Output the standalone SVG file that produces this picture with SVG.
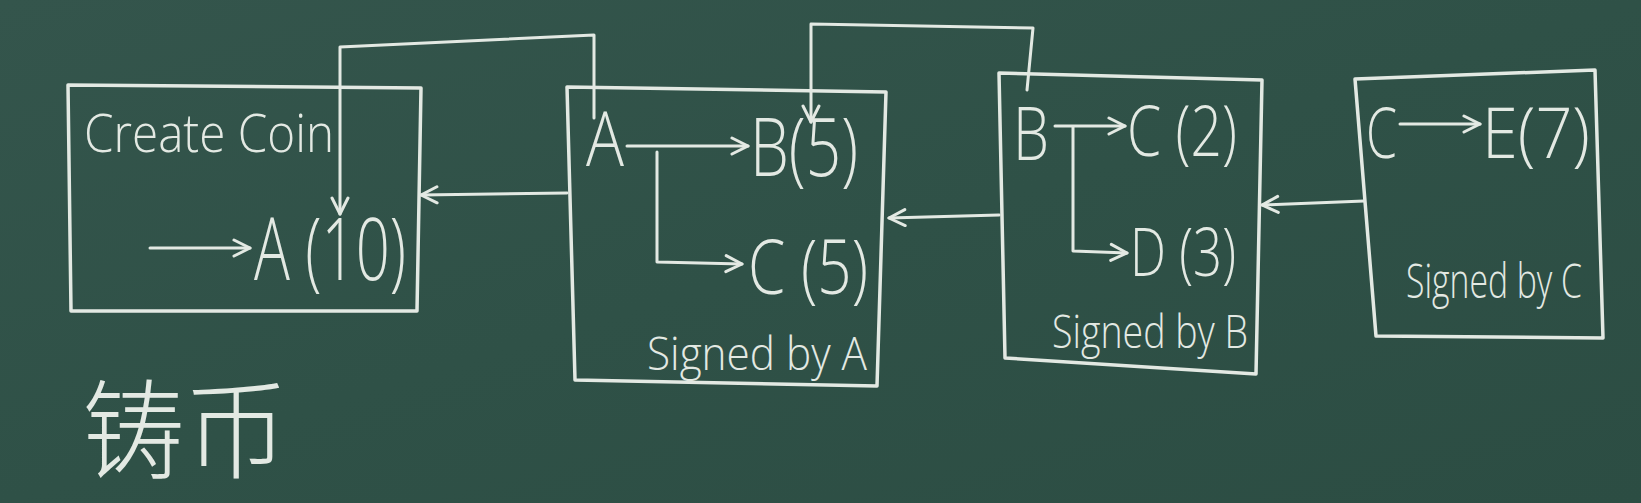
<svg xmlns="http://www.w3.org/2000/svg" width="1641" height="503" viewBox="0 0 1641 503">
<defs>
<linearGradient id="bg" x1="0" y1="0" x2="1" y2="1">
<stop offset="0" stop-color="#34554c"/>
<stop offset="0.5" stop-color="#2f5147"/>
<stop offset="1" stop-color="#2c4d43"/>
</linearGradient>
<marker id="ah" viewBox="0 0 20 20" refX="18" refY="10" markerWidth="20" markerHeight="20" markerUnits="userSpaceOnUse" orient="auto">
<polyline points="2,2 18,10 2,18" fill="none" stroke="#e3e9e3" stroke-width="3" stroke-linecap="round" stroke-linejoin="round"/>
</marker>
<style>
.box{fill:none;stroke:#e3e9e3;stroke-width:3.5;stroke-linejoin:round;stroke-linecap:round}
.ln{fill:none;stroke:#e3e9e3;stroke-width:3;stroke-linejoin:round;stroke-linecap:round}
.t{fill:#e3e9e3;font-family:"Open Sans","Liberation Sans",sans-serif;font-weight:300}
.cjk{fill:#e3e9e3;font-family:"Noto Sans CJK SC",sans-serif;font-weight:300}
</style>
</defs>
<rect width="1641" height="503" fill="url(#bg)"/>

<g id="createcoin">
<path class="box" d="M68,85 L421,88 L417,311 L71,311 Z"/>
<text class="t" x="84" y="152" font-size="54" textLength="250" lengthAdjust="spacingAndGlyphs">Create Coin</text>
<line class="ln" x1="150" y1="248" x2="250" y2="248" marker-end="url(#ah)"/>
<text class="t" x="254" y="280" font-size="86" textLength="152" lengthAdjust="spacingAndGlyphs">A (10)</text>
</g>

<g id="txA">
<path class="box" d="M567,87 L886,92 L877,386 L575,380 Z"/>
<text class="t" x="586" y="166" font-size="76" textLength="38" lengthAdjust="spacingAndGlyphs">A</text>
<line class="ln" x1="627" y1="146" x2="748" y2="146" marker-end="url(#ah)"/>
<text class="t" x="750" y="176" font-size="82" textLength="108" lengthAdjust="spacingAndGlyphs">B(5)</text>
<path class="ln" d="M657,152 L657,262 L742,264" marker-end="url(#ah)"/>
<text class="t" x="748" y="294" font-size="76" textLength="120" lengthAdjust="spacingAndGlyphs">C (5)</text>
<text class="t" x="647" y="370" font-size="46" textLength="220" lengthAdjust="spacingAndGlyphs">Signed by A</text>
</g>

<g id="txB">
<path class="box" d="M999,73 L1262,80 L1256,374 L1005,358 Z"/>
<text class="t" x="1013" y="160" font-size="74" textLength="36" lengthAdjust="spacingAndGlyphs">B</text>
<line class="ln" x1="1055" y1="126" x2="1125" y2="126" marker-end="url(#ah)"/>
<text class="t" x="1127" y="156" font-size="70" textLength="110" lengthAdjust="spacingAndGlyphs">C (2)</text>
<path class="ln" d="M1073,127 L1073,251 L1127,253" marker-end="url(#ah)"/>
<text class="t" x="1130" y="276" font-size="66" textLength="106" lengthAdjust="spacingAndGlyphs">D (3)</text>
<text class="t" x="1052" y="348" font-size="46" textLength="196" lengthAdjust="spacingAndGlyphs">Signed by B</text>
</g>

<g id="txC">
<path class="box" d="M1355,79 L1595,70 L1603,338 L1376,336 Z"/>
<text class="t" x="1366" y="158" font-size="70" textLength="31" lengthAdjust="spacingAndGlyphs">C</text>
<line class="ln" x1="1400" y1="124" x2="1480" y2="124" marker-end="url(#ah)"/>
<text class="t" x="1482" y="158" font-size="70" textLength="108" lengthAdjust="spacingAndGlyphs">E(7)</text>
<text class="t" x="1406" y="298" font-size="48" textLength="176" lengthAdjust="spacingAndGlyphs">Signed by C</text>
</g>

<g id="label-zhubi">
<text class="cjk" x="82" y="470" font-size="108" textLength="206" lengthAdjust="spacingAndGlyphs">铸币</text>
</g>

<g id="connectors">
<line class="ln" x1="567" y1="193" x2="421" y2="195" marker-end="url(#ah)"/>
<line class="ln" x1="999" y1="215" x2="889" y2="218" marker-end="url(#ah)"/>
<line class="ln" x1="1364" y1="201" x2="1262" y2="205" marker-end="url(#ah)"/>
<path class="ln" d="M594,118 L594,35 L340,47 L340,214" marker-end="url(#ah)"/>
<path class="ln" d="M1027,90 L1033,28 L811,24 L811,122" marker-end="url(#ah)"/>
</g>
</svg>
